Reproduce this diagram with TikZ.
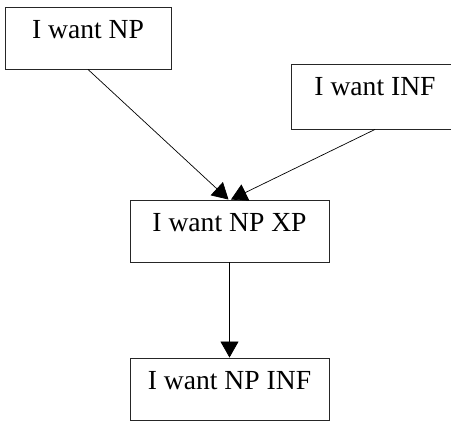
\documentclass[tikz,border=0pt]{standalone}
\usepackage{fontspec}
\setmainfont{Liberation Serif}
\usetikzlibrary{arrows.meta,calc}
\begin{document}
\begin{tikzpicture}[x=1pt,y=1pt,
  box/.style={draw=black!85, line width=0.9pt, rectangle, inner sep=0pt,
    text height=32pt, text depth=30pt,
    font=\fontsize{27.6}{33}\selectfont},
  link/.style={draw=black, line width=0.7pt,
    -{Triangle[length=16pt,width=18pt]}}]
  \useasboundingbox (0,0) rectangle (451,422);
  \clip (0,0) rectangle (451,422);
  \node[box, minimum width=166pt] (np)    at (88,384)     {I want NP};
  \node[box, minimum width=168pt, text depth=33pt] (inf) at (375,325.5) {I want INF};
  \node[box, minimum width=199pt] (xp)    at (229.5,191)  {I want NP XP};
  \node[box, minimum width=199pt] (npinf) at (229.5,33)   {I want NP INF};
  \coordinate (xpl) at ($(xp.north)+(-1,0)$);
  \coordinate (xpr) at ($(xp.north)+(1.5,0)$);
  \draw[link] (np.south) -- (xpl);
  \draw[link] (inf.south) -- (xpr);
  \draw[link] (xp.south) -- (npinf.north);
\end{tikzpicture}
\end{document}
